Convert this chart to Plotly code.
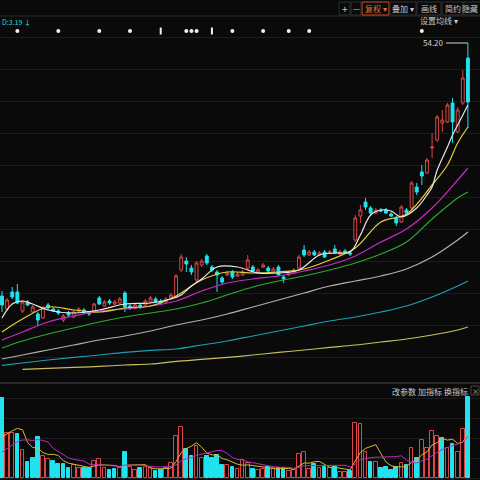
import pandas as pd
import plotly.graph_objects as go

# daily bars (index 1..92)
bars = list(range(1, 93))
opens = [16.25, 14.30, 16.85, 16.85, 14.00, 15.35, 13.85, 13.55, 12.95, 14.90,
         14.30, 14.00, 12.65, 13.70, 13.10, 14.00, 14.15, 13.85, 13.85, 15.95,
         14.75, 15.50, 15.05, 15.20, 16.70, 14.75, 14.45, 14.90, 14.90, 15.35,
         15.80, 15.50, 15.35, 15.95, 16.10, 20.15, 21.50, 20.45, 18.65, 20.90,
         22.25, 20.60, 19.85, 18.95, 19.40, 19.85, 19.25, 19.40, 20.45, 20.60,
         19.70, 20.60, 20.45, 19.85, 20.60, 19.10, 19.40, 19.70, 20.45, 23.15,
         22.40, 22.85, 22.40, 22.85, 22.70, 23.30, 22.55, 23.00, 22.70, 24.65,
         28.25, 30.35, 29.45, 28.70, 29.15, 29.15, 28.55, 27.95, 27.35, 29.15,
         29.45, 32.60, 34.85, 34.70, 38.45, 39.65, 42.20, 42.35, 45.20, 40.85,
         45.20, 51.95]
highs = [17.00, 15.95, 17.60, 18.05, 15.65, 15.65, 14.90, 13.85, 14.75, 15.20,
         14.60, 14.30, 13.55, 14.00, 14.15, 14.60, 14.45, 14.00, 15.20, 16.25,
         15.65, 15.80, 15.65, 16.10, 17.00, 15.05, 15.20, 15.20, 15.80, 16.25,
         16.10, 15.80, 16.10, 16.70, 19.55, 22.55, 22.10, 20.90, 21.50, 21.80,
         22.55, 20.90, 20.15, 19.25, 20.00, 20.15, 19.85, 20.15, 22.40, 20.90,
         20.45, 21.20, 20.75, 20.60, 20.90, 19.40, 20.00, 20.45, 22.40, 23.90,
         23.15, 23.15, 23.00, 23.15, 23.15, 23.90, 23.15, 23.30, 23.00, 28.40,
         29.90, 30.95, 29.75, 29.45, 29.45, 29.45, 28.85, 28.25, 29.90, 29.45,
         33.50, 33.20, 35.90, 36.95, 40.70, 43.40, 44.15, 45.20, 45.95, 44.60,
         50.15, 54.20]
lows = [13.85, 14.00, 15.80, 15.05, 13.70, 14.75, 13.70, 11.75, 12.80, 14.15,
        13.85, 13.40, 12.35, 13.10, 12.95, 13.85, 13.55, 13.25, 13.70, 14.90,
        14.60, 14.90, 14.90, 15.05, 13.85, 14.15, 14.30, 14.30, 14.75, 15.20,
        15.20, 15.05, 15.20, 15.80, 15.95, 19.85, 19.85, 19.40, 18.35, 20.60,
        20.90, 19.85, 16.85, 17.90, 19.25, 18.80, 19.10, 19.25, 20.15, 19.85,
        19.55, 20.45, 19.70, 19.70, 19.25, 18.20, 19.25, 19.55, 20.30, 22.10,
        22.25, 22.25, 22.25, 21.95, 22.55, 22.55, 22.40, 22.55, 22.25, 24.35,
        27.20, 29.15, 28.40, 28.55, 28.85, 28.55, 28.10, 26.75, 27.20, 28.55,
        29.30, 31.40, 32.90, 34.55, 36.95, 39.35, 40.85, 42.20, 39.20, 40.70,
        44.90, 41.45]
closes = [14.90, 15.65, 16.10, 15.20, 15.35, 14.90, 14.60, 12.65, 14.45, 14.45,
          14.00, 13.70, 13.25, 13.40, 13.85, 14.30, 13.70, 13.55, 15.05, 15.05,
          15.35, 15.20, 15.35, 15.80, 14.60, 14.45, 14.90, 14.60, 15.50, 15.95,
          15.35, 15.20, 15.80, 16.40, 19.25, 22.10, 21.05, 19.85, 21.20, 21.50,
          21.20, 20.15, 19.40, 18.35, 19.70, 19.10, 19.55, 19.85, 21.65, 20.00,
          20.15, 20.90, 20.00, 20.30, 19.40, 18.80, 19.70, 20.15, 22.10, 22.40,
          22.85, 22.40, 22.70, 22.10, 22.85, 22.70, 22.85, 22.70, 22.55, 27.95,
          29.15, 29.60, 28.70, 29.15, 29.00, 28.70, 28.25, 27.20, 29.60, 28.70,
          33.20, 31.85, 34.25, 36.65, 38.60, 43.10, 42.65, 44.90, 42.35, 44.15,
          48.95, 45.35]

volumes = [79.7, 44.7, 44.7, 44.0, 28.0, 16.3, 19.7, 40.7, 22.0, 19.0,
           17.0, 14.0, 14.0, 10.3, 13.0, 10.3, 9.7, 9.7, 17.3, 18.7,
           9.7, 8.0, 9.0, 10.3, 26.3, 11.3, 8.0, 9.7, 11.3, 9.7,
           7.3, 8.0, 9.7, 14.7, 42.3, 51.3, 29.0, 22.0, 32.0, 19.7,
           22.0, 19.7, 23.0, 13.0, 13.0, 11.3, 8.7, 18.0, 14.7, 9.0,
           8.0, 9.0, 11.3, 9.7, 9.7, 9.7, 7.0, 8.0, 24.0, 26.3,
           9.0, 13.7, 9.7, 11.3, 9.7, 11.3, 6.3, 6.3, 7.0, 54.7,
           53.7, 26.3, 16.3, 15.7, 10.3, 11.3, 8.0, 10.7, 15.3, 13.0,
           30.3, 19.7, 38.0, 29.7, 47.3, 42.3, 40.3, 30.0, 34.3, 25.7,
           49.0, 80.7]
vol_up = [0, 1, 1, 0, 1, 0, 0, 0, 1, 1, 0, 0, 0, 0, 1, 1, 0, 0, 1, 1,
          1, 0, 0, 1, 0, 1, 1, 0, 1, 1, 0, 0, 1, 1, 1, 1, 0, 0, 1, 1,
          0, 0, 0, 0, 1, 0, 1, 1, 1, 0, 1, 1, 0, 1, 0, 0, 1, 1, 1, 1,
          1, 0, 1, 0, 1, 0, 1, 1, 0, 1, 1, 1, 0, 1, 0, 0, 0, 0, 1, 0,
          1, 0, 1, 1, 1, 1, 0, 1, 0, 1, 1, 0]
vol_prev = [10, 9, 11, 12, 13, 28, 30, 32, 35]  # bars before the window, for the MAs

# moving averages of price, read at sample bars
ma5_x = [1, 3, 5, 7, 10, 15, 20, 25, 30, 34, 36, 38, 40, 43, 47, 51, 55, 59, 63, 66,
         69, 71, 73, 75, 77, 79, 82, 84, 85, 86, 88, 89, 90, 92]
ma5_y = [12.95, 15.05, 15.50, 15.05, 14.15, 13.70, 14.15, 15.05, 15.20, 15.80,
         16.40, 17.75, 18.80, 20.60, 20.60, 19.70, 19.70, 20.15, 22.40, 22.70,
         22.85, 25.40, 28.40, 29.15, 29.00, 28.10, 29.45, 31.40, 32.60, 35.15,
         38.60, 40.40, 41.90, 44.90]
ma10_x = [1, 5, 10, 15, 20, 25, 30, 35, 40, 45, 50, 55, 60, 65, 70, 75, 80, 85, 88, 90, 92]
ma10_y = [10.85, 12.80, 14.60, 14.15, 13.85, 14.45, 14.75, 16.25, 18.65, 19.85,
          19.70, 19.85, 20.30, 21.65, 23.45, 27.35, 28.55, 32.90, 35.90, 39.20, 41.60]
ma_x = [1, 5, 10, 15, 20, 25, 30, 35, 40, 45, 50, 55, 60, 65, 70, 75, 80, 85, 90, 92]
ma20_y = [9.65, 10.85, 12.35, 13.25, 14.00, 14.30, 14.75, 15.50, 17.00, 18.20,
          18.80, 19.25, 20.00, 20.90, 22.25, 24.35, 26.30, 29.45, 33.65, 35.45]
ma30_y = [8.45, 9.50, 10.55, 11.45, 12.35, 13.10, 13.70, 14.30, 15.20, 16.40,
          17.60, 18.50, 19.25, 20.15, 21.20, 22.55, 24.35, 27.80, 30.95, 31.85]
ma60_y = [6.80, 7.40, 8.15, 8.90, 9.65, 10.25, 11.00, 11.90, 12.65, 13.55,
          14.60, 15.65, 16.70, 17.75, 18.50, 19.25, 20.30, 22.10, 24.65, 25.85]
ma120_y = [5.83, 6.20, 6.65, 7.03, 7.40, 7.78, 8.08, 8.30, 8.90, 9.50,
           10.25, 11.00, 11.75, 12.50, 13.10, 13.85, 14.75, 16.10, 17.75, 18.50]
ma250_x = [5, 10, 15, 20, 25, 30, 35, 40, 45, 50, 55, 60, 65, 70, 75, 80, 85, 90, 92]
ma250_y = [5.23, 5.38, 5.53, 5.68, 5.90, 6.05, 6.43, 6.73, 7.03, 7.40,
           7.78, 8.15, 8.53, 8.90, 9.35, 9.80, 10.40, 11.15, 11.60]

# info-mine markers above the candles
event_dots = [4, 12, 20, 26, 37, 38, 39, 46, 52, 57, 61, 83]
event_flags = [32, 42]

BG = "#0a0a0a"
RED = "#dc4646"
CYAN = "#1fe3ef"
FONT = "Noto Sans CJK SC"

vol_all = pd.Series(vol_prev + volumes)
vol_ma5 = vol_all.rolling(5).mean().iloc[len(vol_prev):].tolist()
vol_ma10 = vol_all.rolling(10).mean().iloc[len(vol_prev):].tolist()

fig = go.Figure()

ma_lines = [
    (ma250_x, ma250_y, "#c8bf62"),
    (ma_x, ma120_y, "#1b9fb5"),
    (ma_x, ma60_y, "#b0b0b0"),
    (ma_x, ma30_y, "#2fa830"),
    (ma_x, ma20_y, "#c62bc6"),
    (ma10_x, ma10_y, "#e2cf3a"),
    (ma5_x, ma5_y, "#e8e8e8"),
]
for xs, ys, col in ma_lines:
    fig.add_trace(go.Scatter(x=xs, y=ys, mode="lines", line=dict(color=col, width=1.2, shape="spline"),
                             hoverinfo="skip", showlegend=False))

fig.add_trace(go.Candlestick(
    x=bars, open=opens, high=highs, low=lows, close=closes,
    increasing=dict(line=dict(color=RED, width=1), fillcolor=BG),
    decreasing=dict(line=dict(color=CYAN, width=1), fillcolor=CYAN),
    whiskerwidth=0, showlegend=False,
))

fig.add_trace(go.Scatter(
    x=event_dots, y=[56.0] * len(event_dots), mode="markers",
    marker=dict(color="#f0f0f0", size=4), hoverinfo="skip", showlegend=False,
))
fig.add_trace(go.Scatter(
    x=event_flags, y=[56.0] * len(event_flags), mode="markers",
    marker=dict(symbol="line-ns", size=5, line=dict(color="#f0f0f0", width=2)),
    hoverinfo="skip", showlegend=False,
))

# volume panel
up_x = [b for b, u in zip(bars, vol_up) if u]
up_v = [v for v, u in zip(volumes, vol_up) if u]
dn_x = [b for b, u in zip(bars, vol_up) if not u]
dn_v = [v for v, u in zip(volumes, vol_up) if not u]
fig.add_trace(go.Bar(x=up_x, y=up_v, yaxis="y2", width=0.72,
                     marker=dict(color=BG, line=dict(color=RED, width=1)), showlegend=False))
fig.add_trace(go.Bar(x=dn_x, y=dn_v, yaxis="y2", width=0.72,
                     marker=dict(color=CYAN, line=dict(color=CYAN, width=1)), showlegend=False))
fig.add_trace(go.Scatter(x=bars, y=vol_ma5, yaxis="y2", mode="lines",
                         line=dict(color="#d8b832", width=1), showlegend=False))
fig.add_trace(go.Scatter(x=bars, y=vol_ma10, yaxis="y2", mode="lines",
                         line=dict(color="#b52fb5", width=1), showlegend=False))

fig.add_annotation(x=92, y=max(highs), ax=-22, ay=0, text=f"{max(highs):.2f}",
                   showarrow=True, arrowhead=0, arrowwidth=1, arrowcolor="#d0d0d0",
                   font=dict(size=8, color="#d0d0d0", family=FONT), xanchor="right")


# toolbar and captions
def label(x, y, text, color="#c8c8c8", size=8, xanchor="center"):
    fig.add_annotation(x=x, y=y, xref="paper", yref="paper", text=text, showarrow=False,
                       font=dict(size=size, color=color, family=FONT), xanchor=xanchor, yanchor="middle")


def px(y):
    return 1 - y / 480


shapes = [
    dict(type="line", xref="paper", yref="paper", x0=0, x1=1, y0=px(16), y1=px(16), line=dict(color="#2a2a2a", width=1)),
    dict(type="line", xref="paper", yref="paper", x0=0, x1=1, y0=px(383), y1=px(383), line=dict(color="#4a4a4a", width=1)),
    dict(type="rect", xref="paper", yref="paper", x0=362 / 480, x1=389 / 480, y0=px(15), y1=px(2), line=dict(color="#d2502a", width=1)),
    dict(type="rect", xref="paper", yref="paper", x0=471 / 480, x1=479 / 480, y0=px(395), y1=px(386), line=dict(color="#444444", width=1)),
]
for x0, x1 in [(339, 350), (351, 361), (390, 416), (417, 441), (442, 463), (464, 481)]:
    shapes.append(dict(type="rect", xref="paper", yref="paper", x0=x0 / 480, x1=x1 / 480, y0=px(15), y1=px(2),
                       line=dict(color="#2e2e2e", width=1)))
fig.update_layout(shapes=shapes)

label(344.5 / 480, px(8.5), "+", size=10)
label(356 / 480, px(8.5), "—", size=8)
label(375.5 / 480, px(8.5), "复权 ▾", color="#e8702a")
label(403 / 480, px(8.5), "叠加 ▾")
label(429 / 480, px(8.5), "画线")
label(452.5 / 480, px(8.5), "简约")
label(1.0, px(8.5), "隐藏", xanchor="right")
label(0, px(22), "D:3.19 ↓", color="#1fd8e0", size=7, xanchor="left")
label(439 / 480, px(21), "设置均线 ▾", size=8)
label(390 / 480, px(391), "改参数", size=8, xanchor="left")
label(416 / 480, px(391), "加指标", size=8, xanchor="left")
label(442 / 480, px(391), "换指标", size=8, xanchor="left")
label(475 / 480, px(390.5), "×", size=7)

fig.update_layout(
    width=480, height=480,
    margin=dict(l=0, r=0, t=0, b=0),
    paper_bgcolor=BG, plot_bgcolor=BG,
    xaxis=dict(range=[0.609, 94.36], showticklabels=False, showgrid=False, zeroline=False,
               rangeslider=dict(visible=False), fixedrange=True),
    yaxis=dict(domain=[px(383), px(17)], range=[3.20, 58.10], showticklabels=False,
               showgrid=True, gridcolor="#1c1c1c", gridwidth=1, tick0=50.3, dtick=4.8, zeroline=False),
    yaxis2=dict(domain=[0, px(385)], range=[-2, 93], showticklabels=False,
                showgrid=True, gridcolor="#1c1c1c", tick0=0, dtick=20, zeroline=False),
    bargap=0, barmode="overlay", boxgap=0.2,
    font=dict(family=FONT),
)

fig.write_html("out.html", config={"displayModeBar": False},
               post_script="document.body.style.margin='0';document.body.style.background='#0a0a0a';")
